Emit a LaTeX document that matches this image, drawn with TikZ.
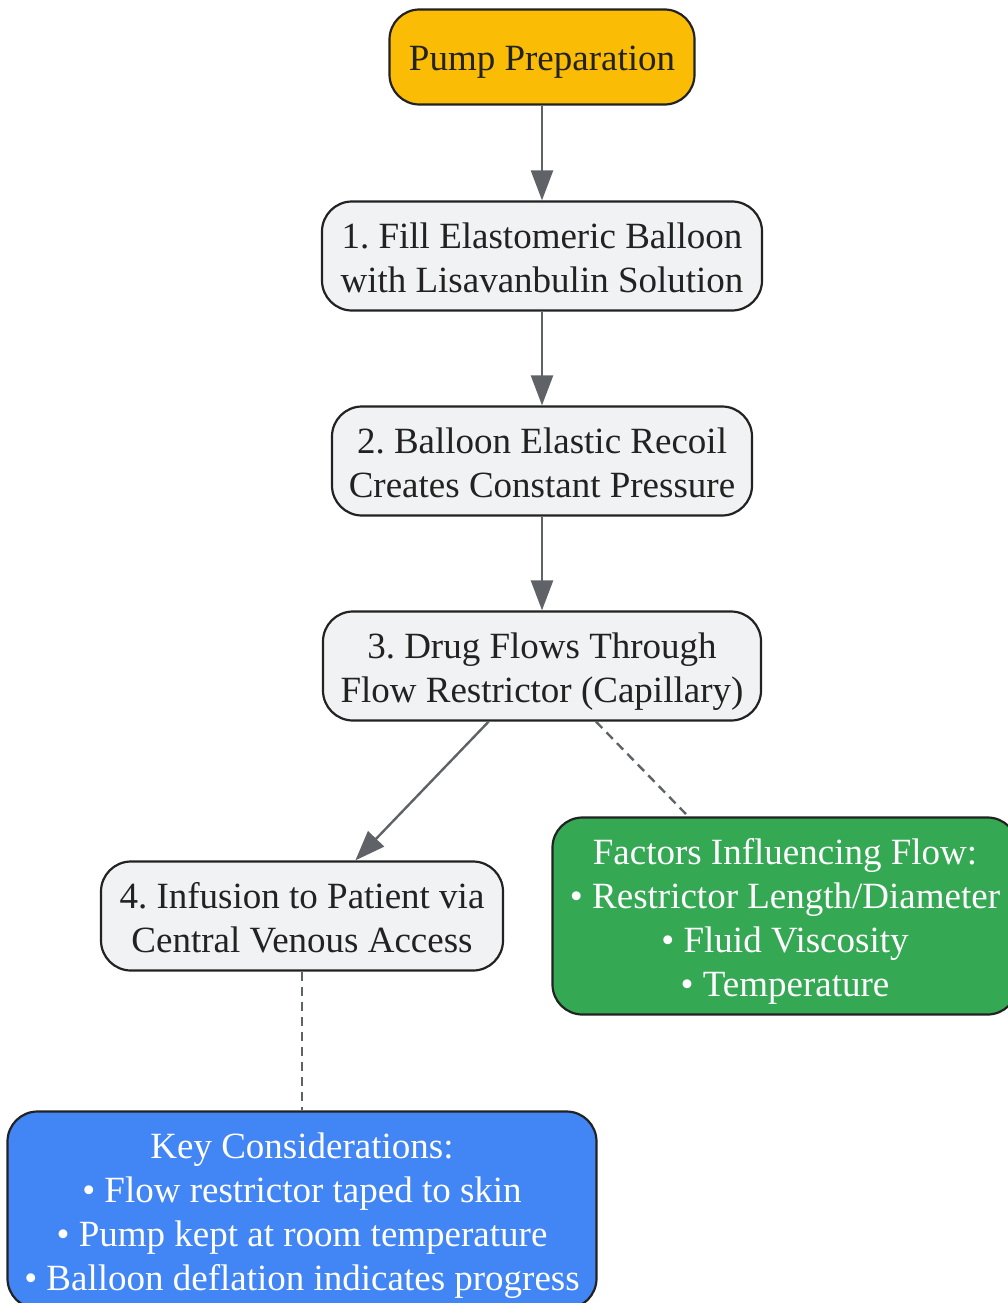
\documentclass[tikz,border=0pt]{standalone}
\usepackage{fontspec}
\setmainfont{Liberation Serif}
\frenchspacing
\usetikzlibrary{arrows.meta}
\definecolor{pumpfill}{HTML}{FBBC05}
\definecolor{stepfill}{HTML}{F1F2F4}
\definecolor{greenfill}{HTML}{34A853}
\definecolor{bluefill}{HTML}{4285F4}
\definecolor{edgegray}{HTML}{5F6368}
\definecolor{textdark}{HTML}{222222}

\begin{document}
\begin{tikzpicture}[x=1pt,y=-1pt,
    box/.style={draw=textdark, line width=2.2pt, rounded corners=30pt,
      inner sep=0pt, align=center, text=textdark,
      font=\fontsize{37}{44}\selectfont, text depth=8pt},
    startbox/.style={box, fill=pumpfill, minimum height=95pt, text height=36pt},
    stepbox/.style={box, fill=stepfill, minimum height=109pt, text height=80pt},
    notebox/.style={box, text=white, minimum height=197pt, text height=168pt},
    flow/.style={draw=edgegray, line width=2.4pt,
      -{Triangle[length=30pt,width=22pt]}},
    link/.style={draw=edgegray, line width=2.4pt, dash pattern=on 9pt off 6pt},
  ]
  \useasboundingbox (0,0) rectangle (1007,1303);

  \node[startbox, minimum width=305pt] (pump) at (542,57) {Pump Preparation};
  \node[stepbox, minimum width=440pt] (fill) at (542,256) {1. Fill Elastomeric Balloon\\with Lisavanbulin Solution};
  \node[stepbox, minimum width=420pt] (recoil) at (542,461) {2. Balloon Elastic Recoil\\Creates Constant Pressure};
  \node[stepbox, minimum width=438pt] (restrict) at (542,666) {3. Drug Flows Through\\Flow Restrictor (Capillary)};
  \node[stepbox, minimum width=402pt] (infuse) at (302,916) {4. Infusion to Patient via\\Central Venous Access};

  \node[notebox, fill=greenfill, minimum width=465pt] (factors) at (785,916)
    {Factors Influencing Flow:\\• Restrictor Length/Diameter\\• Fluid Viscosity\\• Temperature};
  \node[notebox, fill=bluefill, minimum width=589pt] (keys) at (302,1210)
    {Key Considerations:\\• Flow restrictor taped to skin\\• Pump kept at room temperature\\• Balloon deflation indicates progress};

  \draw[flow] (pump) -- (fill);
  \draw[flow] (fill) -- (recoil);
  \draw[flow] (recoil) -- (restrict);
  \draw[flow] (restrict) -- (infuse);
  \draw[link] (restrict) -- (factors);
  \draw[link] (infuse) -- (keys);
\end{tikzpicture}
\end{document}
